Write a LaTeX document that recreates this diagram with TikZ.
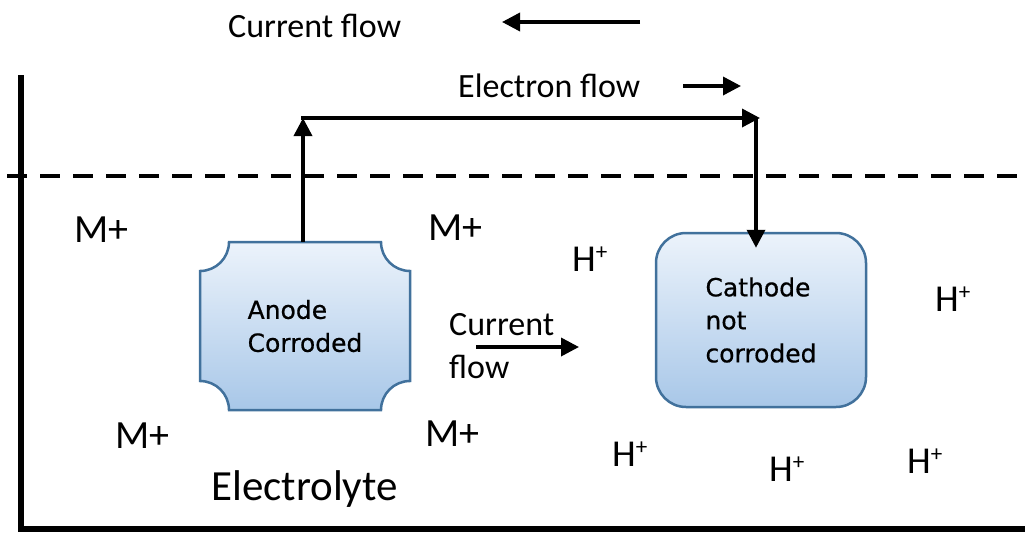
\documentclass[tikz,border=0pt]{standalone}
\usepackage{fontspec}
\setmainfont{Carlito}
\newfontfamily\boxfont[FakeBold=0.6]{DejaVu Sans}
\usetikzlibrary{arrows.meta,calc}
\definecolor{boxline}{RGB}{65,113,156}
\definecolor{boxtop}{RGB}{236,243,251}
\definecolor{boxbot}{RGB}{168,199,232}
\newcommand{\plussup}{\raisebox{12pt}{\fontsize{23}{23}\selectfont +}}
\begin{document}
\begin{tikzpicture}[x=1pt,y=-1pt,
  wire/.style={line width=3.5pt,-{Triangle[length=18pt,width=18pt]}},
  flowarrow/.style={line width=3.5pt,-{Triangle[length=18pt,width=18pt]}},
  wall/.style={line width=5.5pt},
  lab/.style={anchor=base west,inner sep=0pt,font=\fontsize{34}{43}\selectfont},
  ion/.style={anchor=base west,inner sep=0pt,font=\fontsize{40}{40}\selectfont},
  hion/.style={anchor=base west,inner sep=0pt,font=\fontsize{38}{38}\selectfont},
  boxtext/.style={align=left,inner sep=0pt,font=\boxfont\fontsize{25}{33}\selectfont},
  boxshape/.style={draw=boxline,line width=2.5pt,top color=boxtop,bottom color=boxbot}]
\useasboundingbox (0,0) rectangle (1025,536);

% container walls
\coordinate (w1) at (21,75);
\coordinate (w2) at (21,529);
\coordinate (w3) at (1025,529);
\draw[wall] (w1) -- (w2) -- (w3);
\coordinate (s1) at (7,176);
\coordinate (s2) at (1025,176);
\draw[line width=4.5pt,dash pattern=on 20pt off 13pt] (s1) -- (s2);

% anode (concave corners)
\path[boxshape] (229,242) -- (381,242) arc[start angle=180,end angle=90,radius=29]
  -- (410,381) arc[start angle=270,end angle=180,radius=29]
  -- (229,410) arc[start angle=0,end angle=-90,radius=29]
  -- (200,271) arc[start angle=90,end angle=0,radius=29] -- cycle;
\node[boxtext,minimum width=210pt,minimum height=168pt] (anode) at (305,326) {Anode\\Corroded};

% cathode
\node[boxshape,rounded corners=30pt,minimum width=210pt,minimum height=174pt,
      boxtext] (cathode) at (761,320) {Cathode\\not\\corroded};

% external circuit
\coordinate (a1) at (303,118);
\coordinate (a0) at (301,118);
\coordinate (c1) at (760,118);
\coordinate (c2) at (756,118);
\draw[wire] (anode.north -| a1) -- (a1);
\draw[wire] (a0) -- (c1);
\draw[wire] (c2) -- ($(cathode.north -| c2)+(0,16)$);

% flow labels
\node[lab] (cftop) at (228,37) {Current flow};
\coordinate (cf1) at (640,22);
\coordinate (cf2) at (502,22);
\draw[flowarrow] (cf1) -- (cf2);
\node[lab] (ef) at (458,97) {Electron flow};
\coordinate (ef1) at (683,86);
\coordinate (ef2) at (741,86);
\draw[flowarrow] (ef1) -- (ef2);
\node[lab] (cfmid1) at (449,335) {Current};
\node[lab] (cfmid2) at (449,378) {flow};
\coordinate (cm1) at (476,347);
\coordinate (cm2) at (579,347);
\draw[flowarrow] (cm1) -- (cm2);

% ions
\node[ion] (m1) at (74,242) {M+};
\node[ion] (m2) at (428,240) {M+};
\node[ion] (m3) at (115,448) {M+};
\node[ion] (m4) at (425,446) {M+};
\node[hion] (h1) at (572,271) {H\plussup};
\node[hion] (h2) at (935,311) {H\plussup};
\node[hion] (h3) at (612,466) {H\plussup};
\node[hion] (h4) at (769,481) {H\plussup};
\node[hion] (h5) at (907,473) {H\plussup};

\node[anchor=base west,inner sep=0pt,font=\fontsize{43}{43}\selectfont] (el) at (211,500) {Electrolyte};
\end{tikzpicture}
\end{document}
